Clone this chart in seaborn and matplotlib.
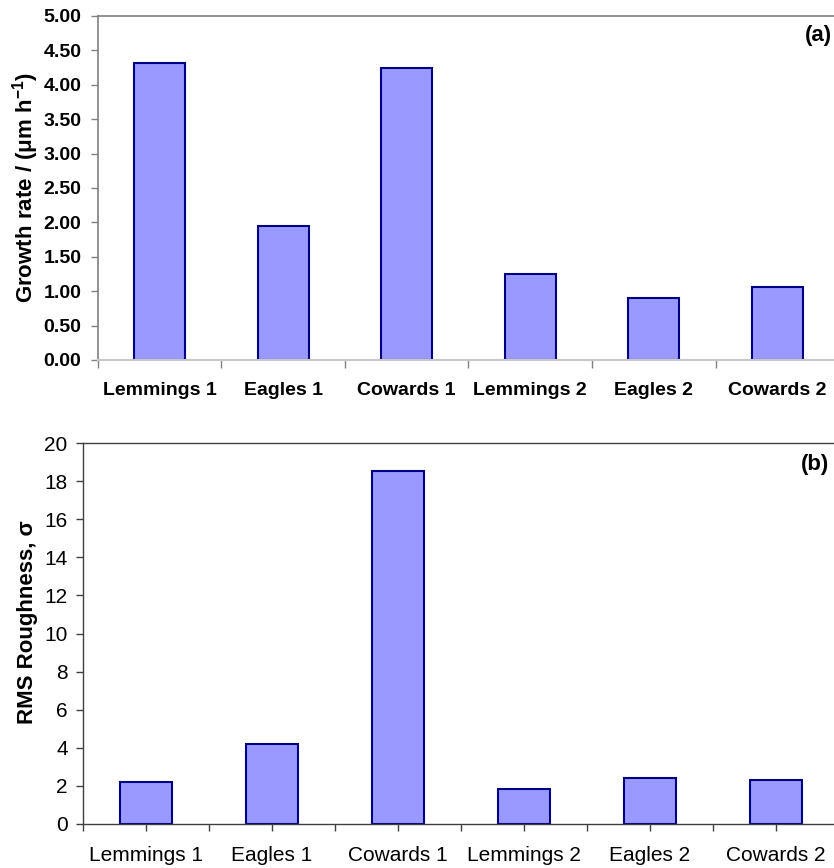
import matplotlib
matplotlib.use("Agg")
import matplotlib.pyplot as plt
import numpy as np
import pandas as pd
import seaborn as sns
from matplotlib.ticker import FormatStrFormatter, FixedLocator

samples = ["Lemmings 1", "Eagles 1", "Cowards 1", "Lemmings 2", "Eagles 2", "Cowards 2"]
growth_rate = [4.31, 1.94, 4.24, 1.25, 0.90, 1.06]
rms_roughness = [2.2, 4.2, 18.55, 1.82, 2.42, 2.33]

df = pd.DataFrame({"sample": samples, "growth": growth_rate, "rms": rms_roughness})

sns.set_theme(style="white", rc={"text.color": "black", "axes.labelcolor": "black",
                                 "xtick.labelcolor": "black", "ytick.labelcolor": "black"})
plt.rcParams['font.family'] = ['Liberation Sans', 'DejaVu Sans']
plt.rcParams['mathtext.fontset'] = 'custom'
plt.rcParams['mathtext.rm'] = 'Liberation Sans'
plt.rcParams['mathtext.bf'] = 'Liberation Sans:bold'

FILL = "#9999FF"
EDGE = "#000080"

fig = plt.figure(figsize=(8.34, 8.68), dpi=100)
ax1 = fig.add_axes([0.1175, 0.5853, 0.8885, 0.3963])
ax2 = fig.add_axes([0.0995, 0.0507, 0.9065, 0.4389])

# (a) growth rate
sns.barplot(data=df, x="sample", y="growth", ax=ax1, color=FILL, width=0.41,
            edgecolor=EDGE, linewidth=1.5, saturation=1)
ax1.set_xlim(-0.5, 5.5)
ax1.set_ylim(0, 5)
ax1.set_yticks(np.arange(0, 5.01, 0.5))
ax1.yaxis.set_major_formatter(FormatStrFormatter("%.2f"))
ax1.set_xlabel("")
ax1.set_ylabel(r"Growth rate / (μm h$^{\mathbf{-1}}$)", fontsize=16, fontweight="bold")
ax1.yaxis.set_label_coords(-0.077, 0.5)
ax1.xaxis.set_minor_locator(FixedLocator(np.arange(-0.5, 5.6, 1)))
ax1.tick_params(axis="x", which="major", length=0, pad=16, labelsize=14)
ax1.tick_params(axis="x", which="minor", bottom=True, length=6, width=1, color="#808080")
ax1.tick_params(axis="y", left=True, length=5, width=1, color="#808080", labelsize=14, pad=7)
for lab in ax1.get_xticklabels() + ax1.get_yticklabels():
    lab.set_fontweight("bold")
for side in ["left", "top", "right"]:
    ax1.spines[side].set_color("#808080")
    ax1.spines[side].set_linewidth(1.2)
ax1.spines["bottom"].set_color("#c8c8c8")
ax1.spines["bottom"].set_linewidth(1.5)
ax1.text(0.99, 0.974, "(a)", transform=ax1.transAxes, ha="right", va="top",
         fontsize=16, fontweight="bold")

# (b) RMS roughness
sns.barplot(data=df, x="sample", y="rms", ax=ax2, color=FILL, width=0.41,
            edgecolor=EDGE, linewidth=1.5, saturation=1)
ax2.set_xlim(-0.5, 5.5)
ax2.set_ylim(0, 20)
ax2.set_yticks(np.arange(0, 21, 2))
ax2.set_xlabel("")
ax2.set_ylabel("RMS Roughness, σ", fontsize=16, fontweight="bold")
ax2.yaxis.set_label_coords(-0.06, 0.53)
ax2.xaxis.set_minor_locator(FixedLocator(np.arange(-0.5, 5.6, 1)))
ax2.tick_params(axis="x", which="major", bottom=True, length=5, width=1, color="#404040",
                pad=11, labelsize=15)
ax2.tick_params(axis="x", which="minor", bottom=True, length=5, width=1, color="#404040")
ax2.tick_params(axis="y", left=True, length=5, width=1, color="#404040", labelsize=15, pad=6)
for side in ["left", "top", "right", "bottom"]:
    ax2.spines[side].set_color("#404040")
    ax2.spines[side].set_linewidth(1.0)
ax2.text(0.987, 0.97, "(b)", transform=ax2.transAxes, ha="right", va="top",
         fontsize=16, fontweight="bold")

fig.savefig("out.png", dpi=100)
